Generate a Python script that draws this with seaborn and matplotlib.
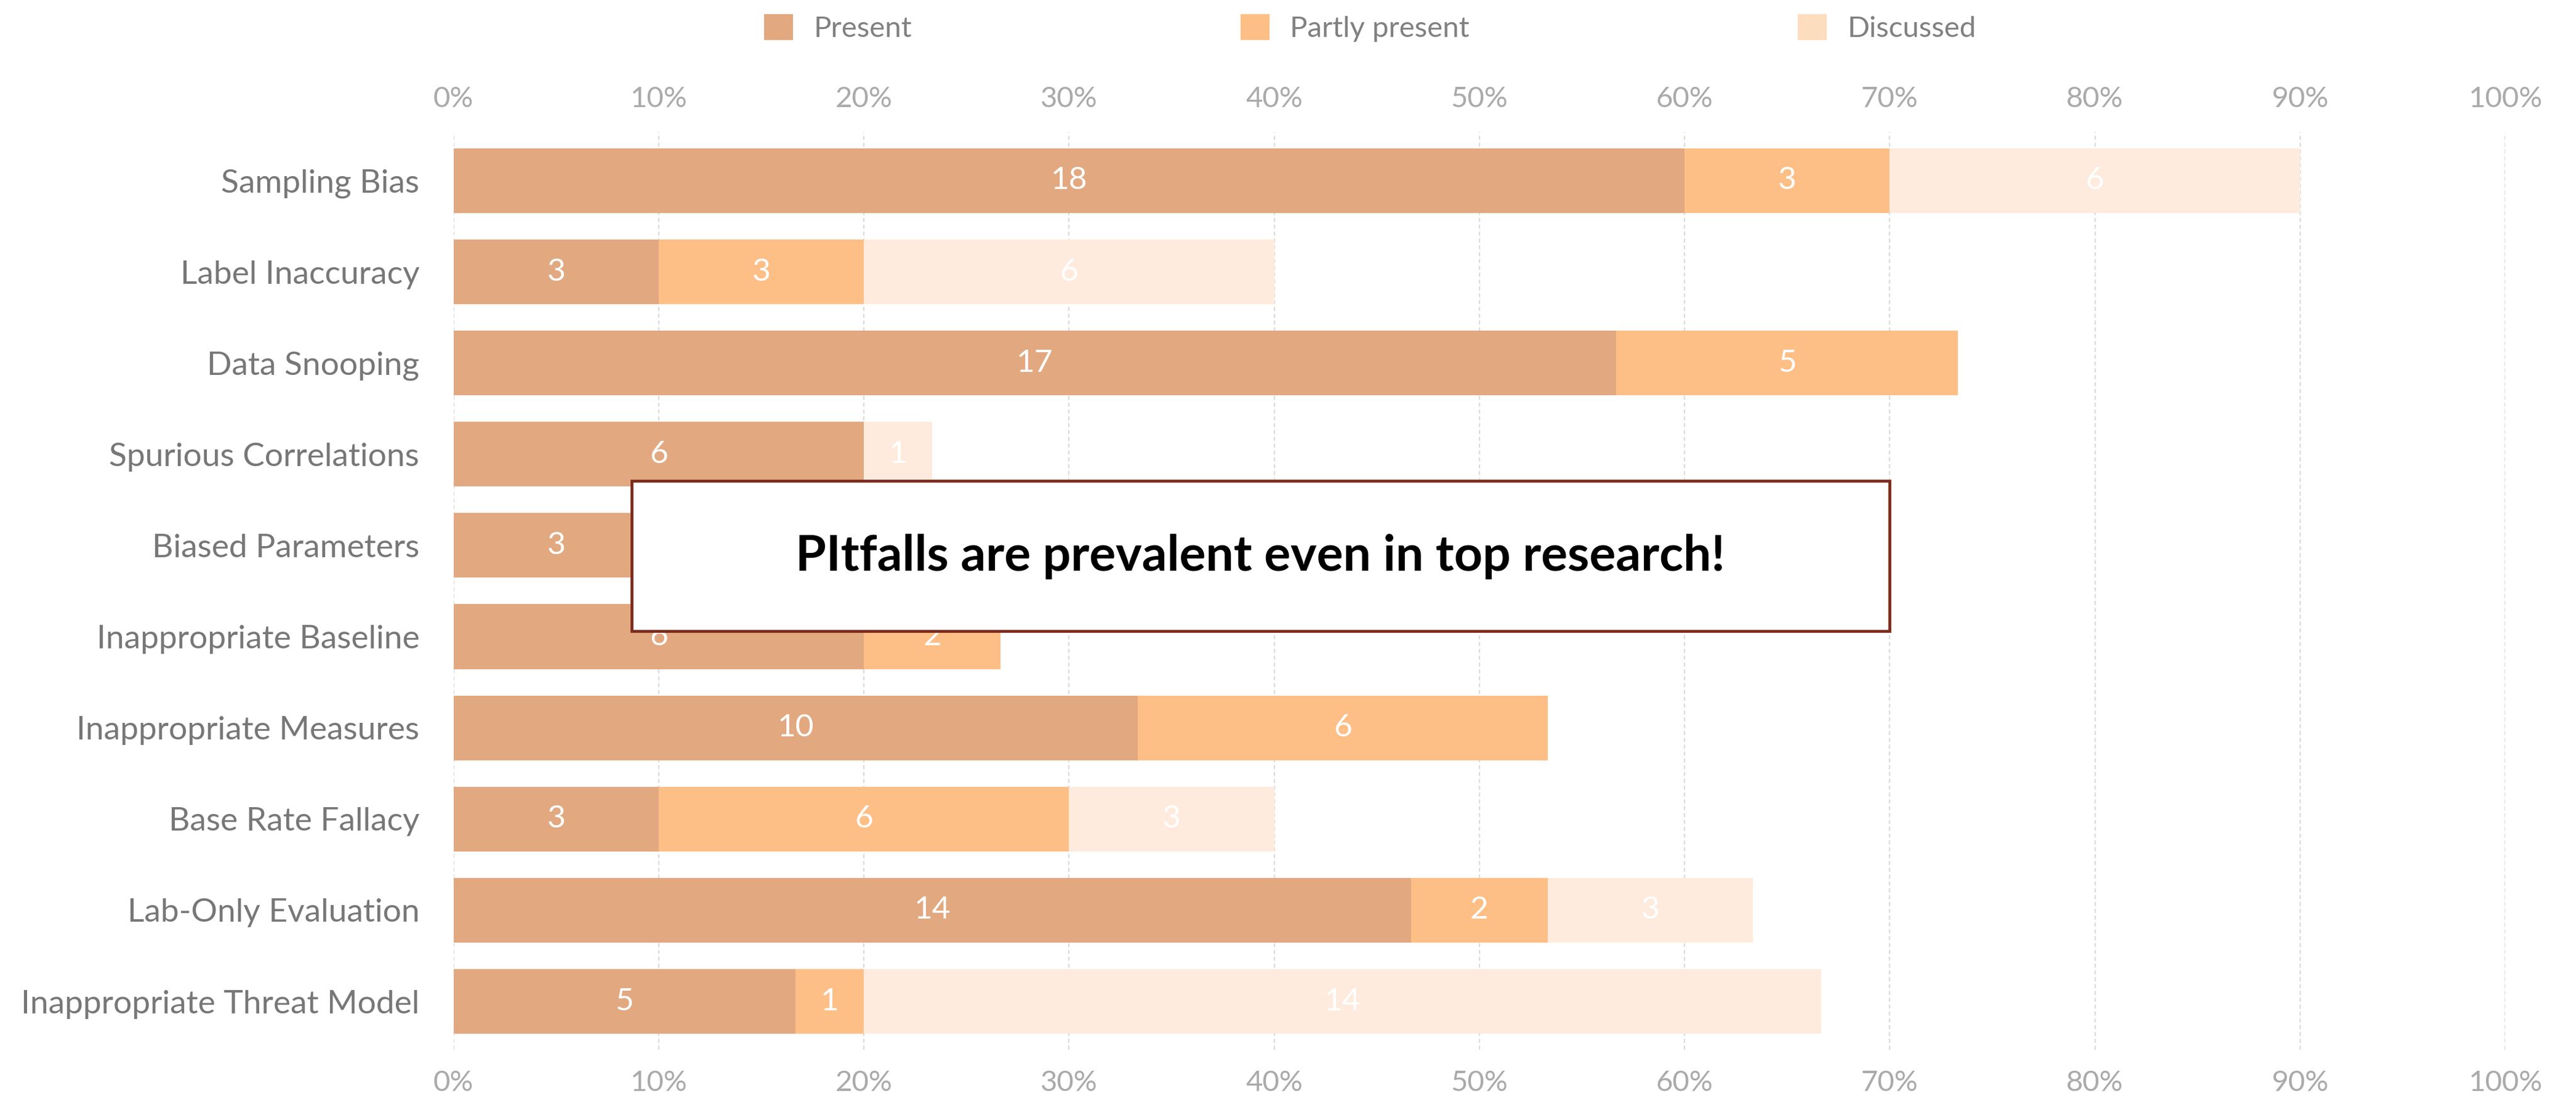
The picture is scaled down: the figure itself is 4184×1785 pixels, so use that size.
import matplotlib.pyplot as plt
import numpy as np
import pandas as pd
import seaborn as sns
from matplotlib.patches import Patch, Rectangle

# papers reviewed per pitfall (counts), out of 30
n_papers = 30
pitfalls = [
    "Sampling Bias", "Label Inaccuracy", "Data Snooping",
    "Spurious Correlations", "Biased Parameters", "Inappropriate Baseline",
    "Inappropriate Measures", "Base Rate Fallacy", "Lab-Only Evaluation",
    "Inappropriate Threat Model"
    ]
present = [18, 3, 17, 6, 3, 6, 10, 3, 14, 5]
partly = [3, 3, 5, 0, 2, 2, 6, 6, 2, 1]
discussed = [6, 6, 0, 1, 2, 0, 0, 3, 3, 14]
series_names = ["Present", "Partly present", "Discussed"]
x_ticks = list(range(0, 101, 10))

c_present = "#e2a880"
c_partly = "#febf87"
c_disc = "#feebdd"
c_disc_legend = "#fedcbe"

df = pd.DataFrame({"pitfall": pitfalls, "present": present,
                   "partly": partly, "discussed": discussed})
df["p1"] = df["present"] / n_papers * 100
df["p2"] = (df["present"] + df["partly"]) / n_papers * 100
df["p3"] = (df["present"] + df["partly"] + df["discussed"]) / n_papers * 100

sns.set_theme(style="white")
plt.rcParams["font.family"] = ["Lato", "DejaVu Sans"]

fig, ax = plt.subplots(figsize=(20.92, 8.925), dpi=200)
fig.subplots_adjust(left=0.1761, right=0.9725, top=0.8796, bottom=0.0448)

# stacked look: draw cumulative totals, longest first
for col, color in [("p3", c_disc), ("p2", c_partly), ("p1", c_present)]:
    sns.barplot(data=df, y="pitfall", x=col, color=color, width=0.71,
                orient="h", errorbar=None, saturation=1, linewidth=0, ax=ax)

# segment labels
for i, row in df.iterrows():
    starts = [0, row["p1"], row["p2"]]
    ends = [row["p1"], row["p2"], row["p3"]]
    counts = [row["present"], row["partly"], row["discussed"]]
    for s, e, n in zip(starts, ends, counts):
        if n > 0:
            ax.text((s + e) / 2, i, str(n), ha="center", va="center",
                    color="white", fontsize=18.5)

ax.set_xlim(0, 100)
ax.set_ylim(9.53, -0.53)
ax.set_xticks(x_ticks)
ax.set_xticklabels([f"{t}%" for t in x_ticks])
ax.set_xlabel("")
ax.set_ylabel("")
ax.xaxis.grid(True, linestyle=(0, (3, 2)), color="#dcdcdc", linewidth=0.8)
ax.yaxis.grid(False)
ax.set_axisbelow(True)
sns.despine(ax=ax, left=True, bottom=True)

ax.tick_params(axis="x", top=True, labeltop=True, bottom=True,
               labelbottom=True, length=0, pad=12, labelsize=17,
               labelcolor="#aaaaaa")
ax.tick_params(axis="y", length=0, pad=20, labelsize=19.2,
               labelcolor="#777777")

# callout box
ax.add_patch(Rectangle((8.67, 3.29), 70 - 8.67, 4.94 - 3.29,
                       facecolor="white", edgecolor="#7b2b1c",
                       linewidth=1.7, zorder=5))
ax.text(39.33, 4.28, "PItfalls are prevalent even in top research!",
        ha="center", va="baseline", fontsize=29, fontweight="bold",
        color="black", zorder=6)

handles = [Patch(facecolor=c, edgecolor="none")
           for c in [c_present, c_partly, c_disc_legend]]
fig.legend(handles, series_names, loc="upper left",
           bbox_to_anchor=(1241 / 4184, 1 - 23 / 1785), ncol=3,
           frameon=False, fontsize=17, handlelength=1.0,
           handleheight=1.0, handletextpad=0.7, columnspacing=11.3,
           borderpad=0, borderaxespad=0, labelcolor="#808080")

fig.savefig("out.png", dpi=200)
